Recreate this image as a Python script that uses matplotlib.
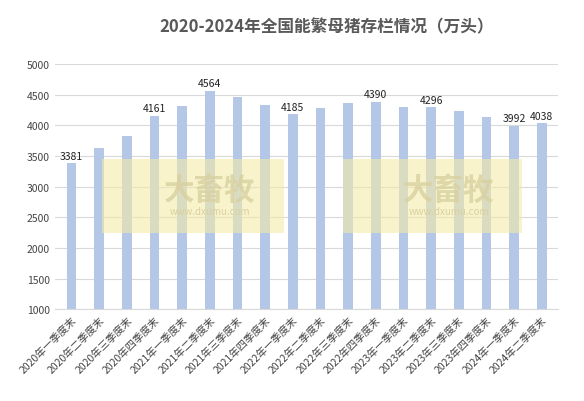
import matplotlib
matplotlib.use("Agg")
import matplotlib.pyplot as plt
from matplotlib.patches import Rectangle

plt.rcParams['font.family'] = ['Noto Sans CJK SC', 'DejaVu Sans']

quarters = ["2020年一季度末", "2020年二季度末", "2020年三季度末", "2020年四季度末",
            "2021年一季度末", "2021年二季度末", "2021年三季度末", "2021年四季度末",
            "2022年一季度末", "2022年二季度末", "2022年三季度末", "2022年四季度末",
            "2023年一季度末", "2023年二季度末", "2023年三季度末", "2023年四季度末",
            "2024年一季度末", "2024年二季度末"]
values = [3381, 3629, 3822, 4161, 4318, 4564, 4459, 4329, 4185, 4277, 4362, 4390,
          4305, 4296, 4241, 4142, 3992, 4038]
labeled = {0, 3, 5, 8, 11, 13, 16, 17}

fig = plt.figure(figsize=(5.84, 4.02), dpi=100)
ax = fig.add_axes([0.094, 0.228, 0.862, 0.61])
x = range(len(values))
ax.bar(x, values, width=0.35, color="#B4C7E7", zorder=2)
for i, v in enumerate(values):
    if i in labeled:
        ax.text(i, v + 40, str(v), ha="center", va="bottom", fontsize=7.5, color="#222222")

# watermark panels
for x0, x1 in [(1.1, 7.7), (9.8, 16.3)]:
    ax.add_patch(Rectangle((x0, 2250), x1 - x0, 1200, fc="#F4EBA8", ec="none",
                           alpha=0.6, zorder=3))
    ax.text((x0 + x1) / 2 + 0.6, 2950, "大畜牧", ha="center", va="center",
            fontsize=22, color="#D8D0A0", alpha=0.8, weight="bold", zorder=4)
    ax.text((x0 + x1) / 2 + 0.6, 2600, "www.dxumu.com", ha="center", va="center",
            fontsize=7, color="#D8D0A0", zorder=4)

ax.set_ylim(1000, 5000)
ax.set_yticks(range(1000, 5001, 500))
ax.set_xlim(-0.6, len(values) - 0.4)
ax.set_xticks(list(x))
ax.set_xticklabels(quarters, rotation=45, ha="right", rotation_mode="anchor", fontsize=7.5,
                   color="#444444")
ax.tick_params(axis="y", labelsize=7.5, colors="#444444", length=0)
ax.tick_params(axis="x", length=0)
ax.grid(axis="y", color="#D9D9D9", lw=0.8, zorder=0)
for s in ["top", "right", "left"]:
    ax.spines[s].set_visible(False)
ax.spines["bottom"].set_color("#D9D9D9")
fig.text(0.56, 0.92, "2020-2024年全国能繁母猪存栏情况（万头）", ha="center",
         fontsize=12, weight="bold", color="#595959")
fig.savefig("out.png", dpi=100)
